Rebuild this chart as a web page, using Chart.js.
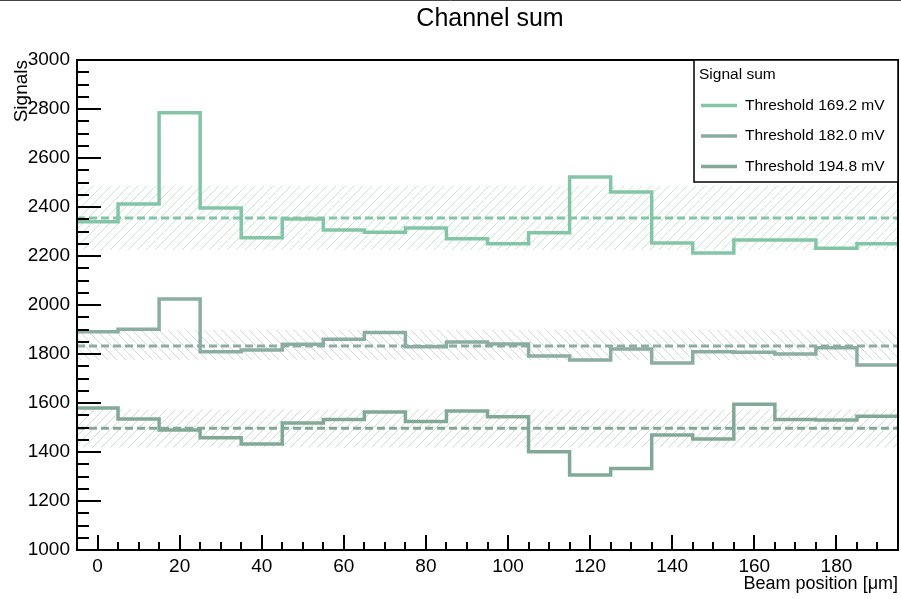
<!DOCTYPE html>
<html>
<head>
<meta charset="utf-8">
<script src="https://cdn.jsdelivr.net/npm/chart.js@4/dist/chart.umd.min.js"></script>
<style>
  html, body { margin: 0; padding: 0; background: #fff; }
  #wrap { width: 901px; height: 599px; }
</style>
</head>
<body>
<div id="wrap"><canvas id="chart"></canvas></div>
<script>
// bin centres (um), bin width 10
const binCenters = [0, 10, 20, 30, 40, 50, 60, 70, 80, 90, 100, 110, 120, 130, 140, 150, 160, 170, 180, 190];
const thr169 = [2340, 2412, 2785, 2396, 2275, 2351, 2306, 2297, 2314, 2270, 2250, 2295, 2522, 2461, 2253, 2212, 2265, 2265, 2232, 2250];
const thr182 = [1891, 1901, 2024, 1809, 1816, 1840, 1860, 1888, 1830, 1849, 1841, 1792, 1776, 1820, 1763, 1809, 1807, 1800, 1826, 1755];
const thr194 = [1580, 1535, 1490, 1458, 1433, 1518, 1533, 1563, 1524, 1567, 1544, 1401, 1306, 1333, 1469, 1453, 1595, 1533, 1531, 1546];
const seriesLabels = ['Threshold 169.2 mV', 'Threshold 182.0 mV', 'Threshold 194.8 mV'];
const meanValues = [2355, 1833, 1497];
const bandLow = [2224, 1776, 1418];
const bandHigh = [2487, 1898, 1573];
const xTicks = [0, 20, 40, 60, 80, 100, 120, 140, 160, 180];

const binWidth = 10;
const xMin = -5, xMax = 195;
const colors = ['#84c5a7', '#8badA3', '#82a996'];
const hatchColors = ['rgba(132,197,167,0.45)', 'rgba(140,160,152,0.4)', 'rgba(140,160,152,0.4)'];
const hatchDirs = ['/', '\\', '/'];
const FONT = "'Liberation Sans', Arial, sans-serif";

function hatch(color, dir) {
  const s = 9;
  const c = document.createElement('canvas');
  c.width = s; c.height = s;
  const g = c.getContext('2d');
  g.strokeStyle = color;
  g.lineWidth = 1;
  g.beginPath();
  if (dir === '/') {
    g.moveTo(0, s); g.lineTo(s, 0);
    g.moveTo(-1, 1); g.lineTo(1, -1);
    g.moveTo(s - 1, s + 1); g.lineTo(s + 1, s - 1);
  } else {
    g.moveTo(0, 0); g.lineTo(s, s);
    g.moveTo(-1, s - 1); g.lineTo(1, s + 1);
    g.moveTo(s - 1, -1); g.lineTo(s + 1, 1);
  }
  g.stroke();
  return g.createPattern(c, 'repeat');
}

// histogram as steps through the bin edges
function steps(values) {
  const pts = values.map((v, i) => ({x: binCenters[i] - binWidth / 2, y: v}));
  pts.push({x: binCenters[binCenters.length - 1] + binWidth / 2, y: values[values.length - 1]});
  return pts;
}

const histos = [thr169, thr182, thr194];
const datasets = [];

histos.forEach((h, i) => {
  datasets.push({
    label: seriesLabels[i],
    isHisto: true,
    data: steps(h),
    stepped: 'before',
    borderColor: colors[i],
    borderWidth: 3.5,
    pointRadius: 0,
    fill: false,
    order: 0
  });
});
histos.forEach((h, i) => {
  datasets.push({
    label: 'mean' + i,
    data: [{x: xMin, y: meanValues[i]}, {x: xMax, y: meanValues[i]}],
    borderColor: colors[i],
    borderWidth: 3,
    borderDash: [8, 4],
    pointRadius: 0,
    fill: false,
    order: 1
  });
});
histos.forEach((h, i) => {
  datasets.push({
    label: 'bandHi' + i,
    data: [{x: xMin, y: bandHigh[i]}, {x: xMax, y: bandHigh[i]}],
    borderWidth: 0,
    borderColor: 'rgba(0,0,0,0)',
    backgroundColor: hatch(hatchColors[i], hatchDirs[i]),
    pointRadius: 0,
    fill: '+1',
    order: 2
  });
  datasets.push({
    label: 'bandLo' + i,
    data: [{x: xMin, y: bandLow[i]}, {x: xMax, y: bandLow[i]}],
    borderWidth: 0,
    borderColor: 'rgba(0,0,0,0)',
    pointRadius: 0,
    fill: false,
    order: 2
  });
});

// ROOT-like frame, inner ticks, title and legend box
const rootStyle = {
  id: 'rootStyle',
  afterDraw(chart) {
    const {ctx, chartArea: a, scales: {x, y}} = chart;
    ctx.save();
    // page edge line
    ctx.strokeStyle = '#444';
    ctx.lineWidth = 1;
    ctx.beginPath(); ctx.moveTo(0, 0.5); ctx.lineTo(901, 0.5); ctx.stroke();

    // frame
    ctx.strokeStyle = '#000';
    ctx.lineWidth = 2;
    ctx.strokeRect(a.left, a.top, a.right - a.left, a.bottom - a.top);

    // ticks
    ctx.lineWidth = 2;
    ctx.beginPath();
    for (let v = 1000; v <= 3000; v += 50) {
      const py = Math.round(y.getPixelForValue(v));
      const len = v % 200 === 0 ? 24 : 12;
      ctx.moveTo(a.left, py); ctx.lineTo(a.left + len, py);
    }
    for (let v = -5; v <= 195; v += 5) {
      const px = Math.round(x.getPixelForValue(v));
      const len = v % 20 === 0 ? 15 : 8;
      ctx.moveTo(px, a.bottom); ctx.lineTo(px, a.bottom - len);
    }
    ctx.stroke();

    // title
    ctx.fillStyle = '#000';
    ctx.font = '25px ' + FONT;
    ctx.textAlign = 'center';
    ctx.textBaseline = 'middle';
    ctx.fillText('Channel sum', 490, 19);

    // legend
    const lx = 694, ly = 60, lw = 898 - 694, lh = 122;
    ctx.fillStyle = '#fff';
    ctx.fillRect(lx, ly, lw, lh);
    ctx.lineWidth = 1.5;
    ctx.strokeStyle = '#000';
    ctx.strokeRect(lx, ly, lw, lh);
    ctx.fillStyle = '#000';
    ctx.font = '15.5px ' + FONT;
    ctx.textAlign = 'left';
    ctx.fillText('Signal sum', 699, 75);
    const entries = chart.data.datasets.filter(d => d.isHisto);
    entries.forEach((d, i) => {
      const ey = 105.5 + i * 30.5;
      ctx.strokeStyle = d.borderColor;
      ctx.lineWidth = 3.5;
      ctx.beginPath(); ctx.moveTo(701, ey); ctx.lineTo(737, ey); ctx.stroke();
      ctx.fillStyle = '#000';
      ctx.fillText(d.label, 745, ey);
    });
    ctx.restore();
  }
};

const ctx = document.getElementById('chart').getContext('2d');
const myChart = new Chart(ctx, {
  type: 'line',
  data: { datasets: datasets },
  options: {
    responsive: true,
    maintainAspectRatio: false,
    animation: false,
    layout: { padding: { top: 60, right: 3, left: 0, bottom: 0 } },
    plugins: {
      legend: { display: false },
      tooltip: { enabled: false },
      title: { display: false }
    },
    scales: {
      x: {
        type: 'linear',
        min: xMin,
        max: xMax,
        afterFit: s => { s.height = 49; },
        afterBuildTicks: s => { s.ticks = xTicks.map(v => ({value: v})); },
        grid: { display: false, drawTicks: false },
        border: { display: false },
        ticks: { color: '#000', padding: 5, maxRotation: 0, font: { family: FONT, size: 19 },
                 callback: v => String(v) },
        title: {
          display: true,
          text: 'Beam position [μm]',
          align: 'end',
          color: '#000',
          padding: { top: 0, bottom: 4 },
          font: { family: FONT, size: 18 }
        }
      },
      y: {
        min: 1000,
        max: 3000,
        afterFit: s => { s.width = 77; },
        grid: { display: false, drawTicks: false },
        border: { display: false },
        ticks: { stepSize: 200, color: '#000', padding: 7, font: { family: FONT, size: 19 },
                 callback: v => String(v) },
        title: {
          display: true,
          text: 'Signals',
          align: 'end',
          color: '#000',
          padding: { top: 10, bottom: 0 },
          font: { family: FONT, size: 19 }
        }
      }
    }
  },
  plugins: [rootStyle]
});
</script>
</body>
</html>
